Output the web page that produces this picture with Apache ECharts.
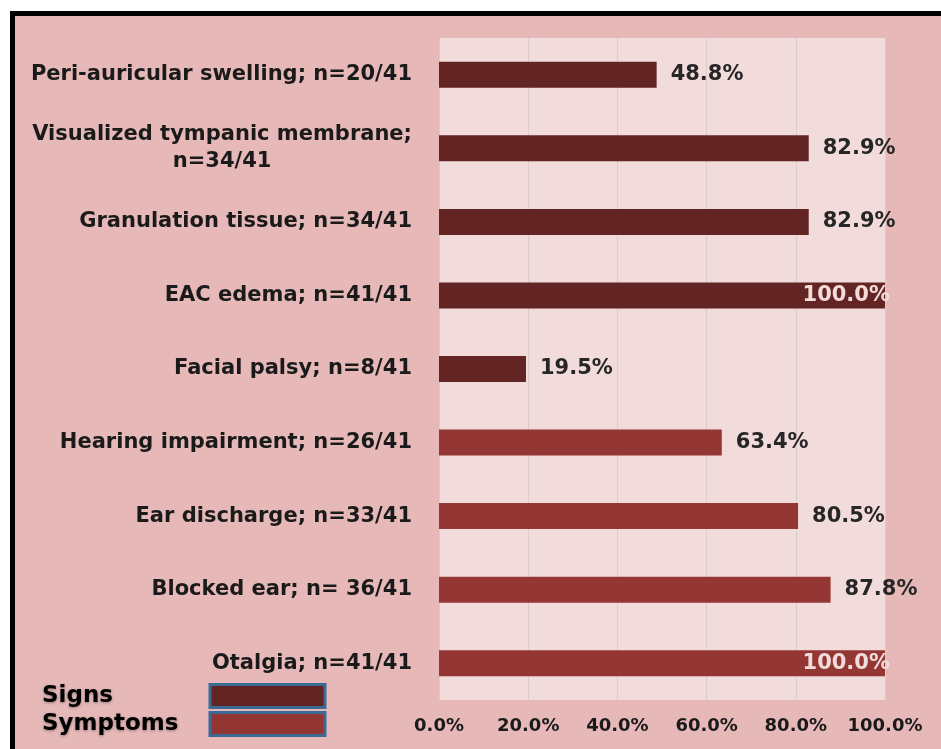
<!DOCTYPE html>
<html>
<head>
<meta charset="utf-8">
<script src="https://cdn.jsdelivr.net/npm/echarts@6/dist/echarts.min.js"></script>
<style>
  html, body { margin: 0; padding: 0; background: #ffffff; overflow: hidden; }
  #frame {
    position: absolute; left: 10px; top: 11px;
    width: 926px; height: 733px;
    border-top: 5px solid #000; border-left: 5px solid #000;
  }
  #chart { width: 926px; height: 733px; background: #E6B9B8; }
</style>
</head>
<body>
<div id="frame"><div id="chart"></div></div>
<script>
  // categories top to bottom
  var categories = [
    'Peri-auricular swelling; n=20/41',
    'Visualized tympanic membrane;\nn=34/41',
    'Granulation tissue; n=34/41',
    'EAC edema; n=41/41',
    'Facial palsy; n=8/41',
    'Hearing impairment; n=26/41',
    'Ear discharge; n=33/41',
    'Blocked ear; n= 36/41',
    'Otalgia; n=41/41'
  ];
  var signs = [48.8, 82.9, 82.9, 100.0, 19.5, null, null, null, null];
  var symptoms = [null, null, null, null, null, 63.4, 80.5, 87.8, 100.0];
  var xTicks = [0, 20, 40, 60, 80, 100];

  var FONT = 'DejaVu Sans';

  function toItems(arr) {
    return arr.map(function (v) {
      if (v === null) return null;
      if (v >= 100) {
        // full bars get their label inside, light text
        return { value: v, label: { position: 'insideRight', distance: -5, color: '#F2DCDB' } };
      }
      return v;
    });
  }

  var barLabel = {
    show: true,
    position: 'right',
    distance: 14,
    fontFamily: FONT,
    fontWeight: 'bold',
    fontSize: 21,
    color: '#262626',
    formatter: function (p) { return p.value.toFixed(1) + '%'; }
  };

  var chart = echarts.init(document.getElementById('chart'));
  chart.setOption({
    animation: false,
    grid: {
      left: 424, right: 56, top: 22, bottom: 49,
      show: true, backgroundColor: '#F2DCDB', borderWidth: 0
    },
    legend: {
      orient: 'vertical',
      left: 27, top: 667,
      padding: 0,
      itemGap: 2,
      align: 'right',
      icon: 'rect',
      itemWidth: 115, itemHeight: 23,
      itemStyle: { borderColor: '#3B6A96', borderWidth: 3 },
      formatter: function (name) { return '{t|' + name + '}'; },
      textStyle: {
        rich: {
          t: {
            width: 163, align: 'left',
            fontFamily: FONT, fontWeight: 'bold', fontSize: 23, color: '#000',
            textShadowColor: 'rgba(0,0,0,0.35)', textShadowBlur: 3, textShadowOffsetY: 1
          }
        }
      },
      data: ['Signs', 'Symptoms']
    },
    xAxis: {
      type: 'value',
      min: xTicks[0], max: xTicks[xTicks.length - 1], interval: 20,
      axisLine: { show: false }, axisTick: { show: false },
      splitLine: { show: true, lineStyle: { color: '#DCCBCB', width: 1 } },
      axisLabel: {
        margin: 17,
        fontFamily: FONT, fontWeight: 'bold', fontSize: 18, color: '#1a1a1a',
        formatter: function (v) { return v.toFixed(1) + '%'; }
      }
    },
    yAxis: {
      type: 'category',
      inverse: true,
      data: categories,
      axisLine: { show: false }, axisTick: { show: false },
      axisLabel: {
        margin: 27,
        fontFamily: FONT, fontWeight: 'bold', fontSize: 21, color: '#1a1a1a',
        lineHeight: 27,
        formatter: function (v) {
          var parts = v.split('\n');
          if (parts.length === 1) return '{a|' + v + '}';
          return '{a|' + parts[0] + '}\n{c|' + parts[1] + '}';
        },
        rich: {
          a: { fontFamily: FONT, fontWeight: 'bold', fontSize: 21, color: '#1a1a1a', lineHeight: 27 },
          c: { fontFamily: FONT, fontWeight: 'bold', fontSize: 21, color: '#1a1a1a', lineHeight: 27, align: 'center' }
        }
      }
    },
    series: [
      {
        name: 'Signs', type: 'bar', stack: 'all',
        barWidth: 26,
        itemStyle: { color: '#632523' },
        label: barLabel,
        data: toItems(signs)
      },
      {
        name: 'Symptoms', type: 'bar', stack: 'all',
        barWidth: 26,
        itemStyle: { color: '#943634' },
        label: barLabel,
        data: toItems(symptoms)
      }
    ]
  });
</script>
</body>
</html>
